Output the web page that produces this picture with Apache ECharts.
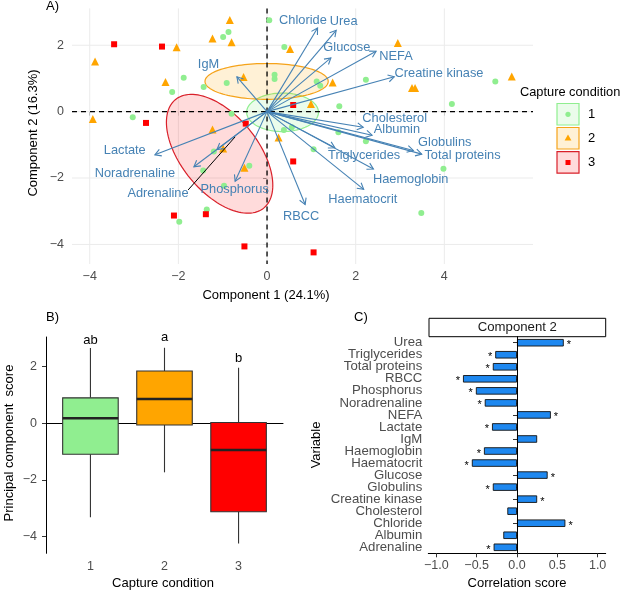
<!DOCTYPE html>
<html><head><meta charset="utf-8">
<script src="https://cdn.jsdelivr.net/npm/echarts@6/dist/echarts.min.js"></script>
<style>html,body{margin:0;padding:0;background:#fff}#c{width:622px;height:591px}</style>
</head><body><div id="c"></div>
<script>
// ---------- Panel A: PCA biplot ----------
const g1X = [0.05,-0.87,-0.99,0.39,-1.88,-2.14,-1.43,-0.91,0.17,0.17,1.12,1.20,2.23,5.15,4.17,1.63,-3.03,-0.80,0.38,0.56,1.61,2.23,1.05,-1.20,-0.40,-1.44,-0.97,3.98,3.48,-1.98,-1.36];
const g1Y = [2.75,2.40,2.25,1.95,1.02,0.59,0.74,0.86,1.11,0.98,0.91,0.78,0.96,0.91,0.23,0.16,-0.17,-0.06,-0.55,-0.47,-0.62,-0.89,-1.13,-1.20,-1.63,-1.77,-2.23,-1.72,-3.05,-3.32,-2.95];
const g2X = [-0.84,-1.23,-0.80,-2.04,-3.88,0.52,-2.29,-0.53,1.48,3.27,3.34,2.95,5.52,0.99,-3.93,-1.23,0.26,-0.99,-0.51];
const g2Y = [2.76,2.20,2.09,1.94,1.51,1.89,0.89,1.04,0.88,0.71,0.71,2.07,1.06,0.23,-0.22,-0.54,-0.78,-1.11,-1.69];
const g3X = [-3.45,-2.37,-2.73,-0.48,0.59,0.59,-2.10,-1.38,-0.51,1.05];
const g3Y = [2.03,1.96,-0.34,-0.36,0.20,-1.50,-3.13,-3.09,-4.06,-4.24];

const vars   = ['Chloride','Urea','Glucose','NEFA','Creatine kinase','IgM','Cholesterol','Albumin','Globulins','Total proteins','Triglycerides','Haemoglobin','Haematocrit','RBCC','Phosphorus','Adrenaline','Noradrenaline','Lactate'];
const arrowX = [1.14,1.56,1.44,2.46,2.87,-0.68,2.17,2.37,3.30,3.49,1.53,2.40,2.18,0.86,-0.72,-1.13,-1.65,-2.53];
const arrowY = [2.52,2.45,1.62,1.82,1.05,1.05,-0.47,-0.71,-1.17,-1.28,-1.09,-1.73,-2.34,-2.80,-2.10,-1.14,-1.66,-1.30];
const labelX = [0.81,1.73,1.80,2.91,3.88,-1.32,2.88,2.93,4.01,4.41,2.19,3.24,2.16,0.77,-0.73,-2.46,-2.98,-3.21];
const labelY = [2.76,2.71,1.92,1.66,1.16,1.41,-0.20,-0.55,-0.92,-1.33,-1.33,-2.03,-2.66,-3.16,-2.34,-2.46,-1.86,-1.17];
const leaderLine = [[-1.78,-2.36],[-0.72,-0.76]];   // Adrenaline label leader

// confidence ellipses: centre, half extents, correlation
const ellCX = [0.35,-0.01,-1.07];
const ellCY = [-0.02,0.91,-1.27];
const ellSX = [0.81,1.39,1.20];
const ellSY = [0.58,0.54,1.79];
const ellR  = [0.0,0.0,-0.53];

const aTicksX = [-4,-2,0,2,4];
const aTicksY = [-4,-2,0,2];
const groups = ['1','2','3'];

// ---------- Panel B: boxplot ----------
const boxCats  = [1,2,3];
const boxLow   = [-3.32,-1.73,-4.24];
const boxQ1    = [-1.09,-0.06,-3.12];
const boxMed   = [0.18,0.86,-0.94];
const boxQ3    = [0.90,1.85,0.03];
const boxHigh  = [2.66,2.67,1.96];
const boxLetters = ['ab','a','b'];
const letterY  = [2.94,3.03,2.29];
const bTicksY = [-4,-2,0,2];

// ---------- Panel C: correlation bars ----------
const corrVars  = ['Urea','Triglycerides','Total proteins','RBCC','Phosphorus','Noradrenaline','NEFA','Lactate','IgM','Haemoglobin','Haematocrit','Glucose','Globulins','Creatine kinase','Cholesterol','Chloride','Albumin','Adrenaline'];
const corrScore = [0.58,-0.27,-0.30,-0.67,-0.51,-0.40,0.42,-0.31,0.25,-0.41,-0.56,0.38,-0.30,0.25,-0.12,0.60,-0.17,-0.29];
const corrSig   = [1,1,1,1,1,1,1,1,0,1,1,1,1,1,0,1,0,1];
const cTicksX = [-1.0,-0.5,0.0,0.5,1.0];

// ---------- styles ----------
const FONT = '"Liberation Sans", Arial, Helvetica, sans-serif';
const COLS = ['#90EE90','#FFA500','#FF0000'];
const FILLS = ['rgba(144,238,144,0.18)','rgba(255,165,0,0.16)','rgba(255,0,0,0.14)'];
const STROKES = ['#90EE90','#F5A31A','#D9202A'];
const ARROW = '#4682B4';
const minus = s => String(s).replace('-', '\u2212');

const chart = echarts.init(document.getElementById('c'), null, {renderer:'canvas'});

function gridLineSeries(xi, ticks, dir, style, z){
  return {
    type:'custom', xAxisIndex:xi, yAxisIndex:xi, z:z, silent:true, clip:false,
    data: ticks.map(v => [v]),
    encode: dir==='v' ? {x:0} : {y:0},
    renderItem(params, api){
      const cs = params.coordSys;
      const v = api.value(0);
      if (dir==='v'){
        const p = api.coord([v, 0]);
        return {type:'line', shape:{x1:p[0],y1:cs.y,x2:p[0],y2:cs.y+cs.height}, style:style};
      } else {
        const p = api.coord([0, v]);
        return {type:'line', shape:{x1:cs.x,y1:p[1],x2:cs.x+cs.width,y2:p[1]}, style:style};
      }
    }
  };
}

const gridStyle = {stroke:'#EBEBEB', lineWidth:1};
const dashStyle = {stroke:'#000', lineWidth:1.3, lineDash:[5,4]};

const series = [];
series.push(gridLineSeries(0, aTicksX, 'v', gridStyle, 1));
series.push(gridLineSeries(0, aTicksY, 'h', gridStyle, 1));
series.push({
  type:'custom', xAxisIndex:0, yAxisIndex:0, z:2, silent:true,
  data: groups.map((g,i)=>[ellCX[i], ellCY[i], i]),
  encode:{x:0,y:1},
  renderItem(params, api){
    const i = api.value(2);
    const pts = [];
    const s = Math.sqrt(1 - ellR[i]*ellR[i]);
    for (let k=0;k<=120;k++){
      const t = k/120*Math.PI*2;
      const x = ellCX[i] + ellSX[i]*Math.cos(t);
      const y = ellCY[i] + ellSY[i]*(ellR[i]*Math.cos(t) + s*Math.sin(t));
      pts.push(api.coord([x,y]));
    }
    return {type:'polygon', shape:{points:pts}, style:{fill:FILLS[i], stroke:STROKES[i], lineWidth:1.2}};
  }
});
series.push(gridLineSeries(0, [0], 'v', dashStyle, 3));
series.push(gridLineSeries(0, [0], 'h', dashStyle, 3));
const pts = [[g1X,g1Y],[g2X,g2Y],[g3X,g3Y]];
const syms = ['circle','triangle','rect'];
const symSize = [6,8,6];
pts.forEach((p,i)=>{
  series.push({
    type:'scatter', xAxisIndex:0, yAxisIndex:0, z:4, name:groups[i],
    symbol:syms[i], symbolSize:symSize[i],
    itemStyle:{color:COLS[i], opacity:1},
    data: p[0].map((x,k)=>[x, p[1][k]])
  });
});
series.push({
  type:'custom', xAxisIndex:0, yAxisIndex:0, z:5, silent:true,
  data: vars.map((v,i)=>[arrowX[i], arrowY[i]]),
  encode:{x:0,y:1},
  renderItem(params, api){
    const o = api.coord([0,0]);
    const e = api.coord([api.value(0), api.value(1)]);
    const ang = Math.atan2(e[1]-o[1], e[0]-o[0]);
    const L = 7, a = Math.PI/6;
    const h1 = [e[0]-L*Math.cos(ang-a), e[1]-L*Math.sin(ang-a)];
    const h2 = [e[0]-L*Math.cos(ang+a), e[1]-L*Math.sin(ang+a)];
    return {type:'group', children:[
      {type:'line', shape:{x1:o[0],y1:o[1],x2:e[0],y2:e[1]}, style:{stroke:ARROW, lineWidth:1.1}},
      {type:'polyline', shape:{points:[h1,e,h2]}, style:{stroke:ARROW, lineWidth:1.1, fill:null}}
    ]};
  }
});
series.push({
  type:'lines', coordinateSystem:'cartesian2d', xAxisIndex:0, yAxisIndex:0, z:5, silent:true,
  lineStyle:{color:'#000', width:1, opacity:1},
  data:[{coords: leaderLine}]
});
series.push({
  type:'custom', xAxisIndex:0, yAxisIndex:0, z:6, silent:true,
  data: vars.map((v,i)=>[labelX[i], labelY[i], i]),
  encode:{x:0,y:1},
  renderItem(params, api){
    const p = api.coord([api.value(0), api.value(1)]);
    return {type:'text', x:p[0], y:p[1], style:{text:vars[api.value(2)], fill:ARROW, fontSize:12.8, fontFamily:FONT, align:'center', verticalAlign:'middle'}};
  }
});

series.push({
  type:'custom', xAxisIndex:1, yAxisIndex:1, z:3, silent:true,
  data: boxCats.map((c,i)=>[c, boxLow[i], boxQ1[i], boxMed[i], boxQ3[i], boxHigh[i], i]),
  encode:{x:0, y:[1,2,3,4,5]},
  renderItem(params, api){
    const c = api.value(0), i = api.value(6);
    const hw = 0.375;
    const lo = api.coord([c, api.value(1)]), q1 = api.coord([c, api.value(2)]);
    const md = api.coord([c, api.value(3)]), q3 = api.coord([c, api.value(4)]);
    const hi = api.coord([c, api.value(5)]);
    const l = api.coord([c-hw, 0])[0], r = api.coord([c+hw, 0])[0];
    const st = {stroke:'#333333', lineWidth:1.1};
    return {type:'group', children:[
      {type:'line', shape:{x1:lo[0],y1:lo[1],x2:q1[0],y2:q1[1]}, style:st},
      {type:'line', shape:{x1:q3[0],y1:q3[1],x2:hi[0],y2:hi[1]}, style:st},
      {type:'rect', shape:{x:l, y:q3[1], width:r-l, height:q1[1]-q3[1]}, style:{fill:COLS[i], stroke:'#333333', lineWidth:1.1}},
      {type:'line', shape:{x1:l,y1:md[1],x2:r,y2:md[1]}, style:{stroke:'#222', lineWidth:2.4}}
    ]};
  }
});
series.push({
  type:'custom', xAxisIndex:1, yAxisIndex:1, z:4, silent:true,
  data: boxCats.map((c,i)=>[c, letterY[i], i]),
  encode:{x:0,y:1},
  renderItem(params, api){
    const p = api.coord([api.value(0), api.value(1)]);
    return {type:'text', x:p[0], y:p[1], style:{text:boxLetters[api.value(2)], fill:'#000', fontSize:13, fontFamily:FONT, align:'center', verticalAlign:'middle'}};
  }
});

series.push({
  type:'bar', xAxisIndex:2, yAxisIndex:2, z:3, barWidth:7.5,
  itemStyle:{color:'#1E88F0', borderColor:'#111', borderWidth:0.9},
  data: corrScore.map((v,i)=>({
    value:v,
    label:{show:!!corrSig[i], position: v>=0 ? 'right':'left', distance:3, formatter:'*', color:'#000', fontSize:11, fontFamily:FONT, offset:[0,2.5]}
  })),
  markLine:{silent:true, symbol:['none','none'], label:{show:false}, lineStyle:{color:'#000', width:1, type:'solid'}, data:[{xAxis:0}]}
});

const tickLabel = {color:'#4D4D4D', fontSize:12.5, fontFamily:FONT};
const option = {
  animation:false,
  backgroundColor:'#fff',
  textStyle:{fontFamily:FONT},
  grid:[
    {left:72, top:8.4, width:461, height:255.6},
    {left:46, top:337, width:237, height:216.3},
    {left:428.3, top:336.7, width:177.4, height:216.6}
  ],
  xAxis:[
    {type:'value', gridIndex:0, min:-4.4, max:6.0, axisLine:{show:false}, splitLine:{show:false},
     axisTick:{show:true, customValues:aTicksX, length:4, lineStyle:{color:'#333'}},
     axisLabel:{...tickLabel, customValues:aTicksX, margin:6, formatter:v=>minus(v)}},
    {type:'value', gridIndex:1, min:0.4, max:3.6, splitLine:{show:false},
     axisLine:{show:true, lineStyle:{color:'#000', width:1}},
     axisTick:{show:true, customValues:boxCats, length:4, lineStyle:{color:'#333'}},
     axisLabel:{...tickLabel, customValues:boxCats, margin:7}},
    {type:'value', gridIndex:2, min:-1.1, max:1.1, splitLine:{show:false},
     axisLine:{show:true, lineStyle:{color:'#000', width:1}},
     axisTick:{show:true, customValues:cTicksX, length:4, lineStyle:{color:'#333'}},
     axisLabel:{...tickLabel, customValues:cTicksX, margin:6, formatter:v=>minus(v.toFixed(1))}}
  ],
  yAxis:[
    {type:'value', gridIndex:0, min:-4.59, max:3.11, axisLine:{show:false}, splitLine:{show:false},
     axisTick:{show:true, customValues:aTicksY, length:4, lineStyle:{color:'#333'}},
     axisLabel:{...tickLabel, customValues:aTicksY, margin:8, formatter:v=>minus(v)}},
    {type:'value', gridIndex:1, min:-4.59, max:3.05, splitLine:{show:false},
     axisLine:{show:true, lineStyle:{color:'#000', width:1}},
     axisTick:{show:true, customValues:bTicksY, length:4, lineStyle:{color:'#333'}},
     axisLabel:{...tickLabel, customValues:bTicksY, margin:9, formatter:v=>minus(v)}},
    {type:'category', gridIndex:2, data:corrVars, inverse:true,
     axisLine:{show:true, lineStyle:{color:'#000', width:1}},
     axisTick:{show:true, alignWithLabel:true, length:4, lineStyle:{color:'#333'}},
     axisLabel:{...tickLabel, fontSize:13.2, margin:6, interval:0}, splitLine:{show:false}}
  ],
  series: series,
  graphic:[
    {type:'text', left:46, top:0, style:{text:'A)', fontSize:13, fontFamily:FONT, fill:'#000'}},
    {type:'text', left:46, top:311, style:{text:'B)', fontSize:13, fontFamily:FONT, fill:'#000'}},
    {type:'text', left:354, top:311, style:{text:'C)', fontSize:13, fontFamily:FONT, fill:'#000'}},
    {type:'text', x:266, y:295, style:{text:'Component 1 (24.1%)', fontSize:13, fontFamily:FONT, fill:'#000', align:'center', verticalAlign:'middle'}},
    {type:'text', x:33, y:133, rotation:Math.PI/2, style:{text:'Component 2 (16.3%)', fontSize:13, fontFamily:FONT, fill:'#000', align:'center', verticalAlign:'middle'}},
    {type:'text', x:163, y:583, style:{text:'Capture condition', fontSize:13, fontFamily:FONT, fill:'#000', align:'center', verticalAlign:'middle'}},
    {type:'text', x:9, y:443, rotation:Math.PI/2, style:{text:'Principal component  score', fontSize:13, fontFamily:FONT, fill:'#000', align:'center', verticalAlign:'middle'}},
    {type:'text', x:517, y:583, style:{text:'Correlation score', fontSize:13, fontFamily:FONT, fill:'#000', align:'center', verticalAlign:'middle'}},
    {type:'text', x:316, y:445, rotation:Math.PI/2, style:{text:'Variable', fontSize:13, fontFamily:FONT, fill:'#000', align:'center', verticalAlign:'middle'}},
    {type:'rect', shape:{x:429, y:318.3, width:176.7, height:18.4}, style:{fill:'#fff', stroke:'#000', lineWidth:1}},
    {type:'text', x:517.3, y:327.6, style:{text:'Component 2', fontSize:13.2, fontFamily:FONT, fill:'#1a1a1a', align:'center', verticalAlign:'middle'}},
    {type:'text', x:520, y:92, style:{text:'Capture condition', fontSize:12.8, fontFamily:FONT, fill:'#000', align:'left', verticalAlign:'middle'}},
    {type:'rect', shape:{x:557, y:103.5, width:22, height:21.5}, style:{fill:FILLS[0], stroke:STROKES[0], lineWidth:1.2}},
    {type:'circle', shape:{cx:568, cy:114.3, r:2.6}, style:{fill:COLS[0]}},
    {type:'text', x:588, y:114.5, style:{text:groups[0], fontSize:13, fontFamily:FONT, fill:'#000', verticalAlign:'middle'}},
    {type:'rect', shape:{x:557, y:127.5, width:22, height:21.5}, style:{fill:FILLS[1], stroke:STROKES[1], lineWidth:1.2}},
    {type:'polygon', shape:{points:[[568,134.6],[571.4,140.6],[564.6,140.6]]}, style:{fill:COLS[1]}},
    {type:'text', x:588, y:138.5, style:{text:groups[1], fontSize:13, fontFamily:FONT, fill:'#000', verticalAlign:'middle'}},
    {type:'rect', shape:{x:557, y:151.7, width:22, height:21.5}, style:{fill:FILLS[2], stroke:STROKES[2], lineWidth:1.2}},
    {type:'rect', shape:{x:565.5, y:160, width:5, height:5}, style:{fill:COLS[2]}},
    {type:'text', x:588, y:162.5, style:{text:groups[2], fontSize:13, fontFamily:FONT, fill:'#000', verticalAlign:'middle'}}
  ]
};
chart.setOption(option);
</script>
</body></html>
